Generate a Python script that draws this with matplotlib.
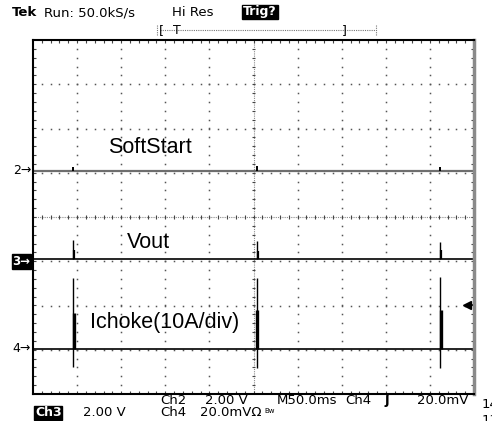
import numpy as np
import matplotlib.pyplot as plt
from matplotlib.lines import Line2D

W, H = 492, 421

# 时基 50ms/div, 屏幕 10 div -> 0..500 ms
spike_t_ms = [45.4, 253.6, 461.5]
# Ch2 SoftStart (2.00 V/div)
softstart_blip_v = [0.16, 0.22, 0.20]
# Ch3 Vout (2.00 V/div)
vout_peak_v = [0.85, 0.81, 0.77]
vout_body_v = [0.41, 0.38, 0.43]
# Ch4 Ichoke (20.0mV/div = 10A/div)
ichoke_peak_a = [16.0, 16.1, 16.2]
ichoke_body_a = [8.1, 8.8, 8.8]
ichoke_min_a = [-4.1, -4.3, -4.3]
trig_level_a = 10.0

# 通道位置 (div) 和刻度 (单位/div)
off2, off3, off4 = 1.04, -0.95, -2.98
sc2, sc3, sc4 = 2.0, 2.0, 10.0

t_screen = np.array([0.0, 500.0])
t = np.array(spike_t_ms)


def fx(px):
    return px / W


def fy(py):
    return 1 - py / H


fig = plt.figure(figsize=(W / 100, H / 100), dpi=100)
ax = fig.add_axes([fx(33), fy(394), 441 / W, 354 / H])
ax.set_xlim(0, 500)
ax.set_ylim(-4, 4)
ax.set_xticks([])
ax.set_yticks([])
for s in ['left', 'top', 'bottom']:
    ax.spines[s].set_linewidth(1.5)
    ax.spines[s].set_color('black')
ax.spines['right'].set_linewidth(2.5)
ax.spines['right'].set_color('#8a8a8a')

# 网格点
xs = np.arange(10, 500, 10)
ys = np.arange(-3.8, 3.81, 0.2)
for xm in [50, 100, 150, 200, 300, 350, 400, 450]:
    ax.plot(np.full(len(ys), xm), ys, ls='none', marker='s', ms=1.1, mew=0, color='#555555')
for yd in [-3, -2, -1, 1, 2, 3]:
    ax.plot(xs, np.full(len(xs), yd), ls='none', marker='s', ms=1.1, mew=0, color='#555555')

# 中心十字线
ax.axhline(0, color='#8c8c8c', lw=0.8, ls=(0, (1, 1)))
ax.axvline(250, color='#8c8c8c', lw=0.8, ls=(0, (1, 1)))
ax.vlines(xs, -0.05, 0.05, color='#444444', lw=0.8)
ax.hlines(ys, 248.3, 251.7, color='#444444', lw=0.8)

# 边框刻度
ax.vlines(xs, 3.93, 4, color='#444444', lw=0.8)
ax.vlines(xs, -4, -3.93, color='#444444', lw=0.8)
ax.hlines(ys, 0, 3.5, color='#444444', lw=0.8)
ax.hlines(ys, 496.5, 500, color='#444444', lw=0.8)

# Ch2 SoftStart
ax.plot(t_screen, off2 + 0 * t_screen, color='#6e6e6e', lw=1.6)
ax.vlines(t + 0.5, off2, off2 + np.array(softstart_blip_v) / sc2, color='black', lw=1.4)

# Ch3 Vout
ax.plot(t_screen, off3 + 0 * t_screen, color='black', lw=1.2)
ax.vlines(t, off3, off3 + np.array(vout_peak_v) / sc3, color='black', lw=1.0)
ax.vlines(t + 1.0, off3, off3 + np.array(vout_body_v) / sc3, color='black', lw=1.6)

# Ch4 Ichoke
ax.plot(t_screen, off4 + 0 * t_screen, color='black', lw=1.2)
ax.vlines(t, off4 + np.array(ichoke_min_a) / sc4, off4 + np.array(ichoke_peak_a) / sc4,
          color='black', lw=1.0)
ax.vlines(t + 0.8, off4, off4 + np.array(ichoke_body_a) / sc4, color='black', lw=2.4)

# 触发电平标记
ytrig = off4 + trig_level_a / sc4
ax.plot([491, 500], [ytrig, ytrig], color='black', lw=1.2, clip_on=False)
ax.plot([491.5], [ytrig], marker='<', ms=6, color='black', clip_on=False)

# 通道标签
ax.text(85, off2 + 0.54, 'SoftStart', fontsize=15.5,
        family='Liberation Sans', va='center', ha='left')
ax.text(106, off3 + 0.38, 'Vout', fontsize=15.5,
        family='Liberation Sans', va='center', ha='left')
ax.text(65, off4 + 0.6, 'Ichoke(10A/div)', fontsize=15.5,
        family='Liberation Sans', va='center', ha='left')

# 左侧通道指示
yt = ax.get_yaxis_transform()
ax.text(-0.004, off2, '2\u2192', transform=yt, ha='right', va='center', fontsize=9)
ax.text(-0.006, off3 - 0.05, '3\u2192', transform=yt, ha='right', va='center', fontsize=8.5,
        color='white', fontweight='bold',
        bbox=dict(facecolor='black', edgecolor='black', pad=0.6))
ax.text(-0.004, off4, '4\u2192', transform=yt, ha='right', va='center', fontsize=9)

# 顶部状态栏
fig.text(fx(12), fy(13), 'Tek', fontsize=9.5, fontweight='bold', va='center')
fig.text(fx(44), fy(13), 'Run: 50.0kS/s', fontsize=9.5, va='center')
fig.text(fx(172), fy(13), 'Hi Res', fontsize=9.5, va='center')
fig.text(fx(243), fy(12), 'Trig?', fontsize=9, va='center', color='white', fontweight='bold',
         bbox=dict(facecolor='black', edgecolor='black', pad=0.5))
fig.add_artist(Line2D([fx(160), fx(376)], [fy(30), fy(30)], ls=(0, (1, 1)), color='#777777', lw=0.8))
fig.add_artist(Line2D([fx(157), fx(157)], [fy(25), fy(35)], ls=(0, (1, 1)), color='#777777', lw=0.8))
fig.add_artist(Line2D([fx(376), fx(376)], [fy(25), fy(35)], ls=(0, (1, 1)), color='#777777', lw=0.8))
fig.text(fx(159), fy(31), '[', fontsize=9, va='center')
fig.text(fx(173), fy(30), 'T', fontsize=9, va='center')
fig.text(fx(342), fy(31), ']', fontsize=9, va='center')

# 底部状态栏
fig.text(fx(160), fy(400), 'Ch2', fontsize=9.5, va='center')
fig.text(fx(205), fy(400), '2.00 V', fontsize=9.5, va='center')
fig.text(fx(277), fy(400), 'M50.0ms', fontsize=9.5, va='center')
fig.text(fx(345), fy(400), 'Ch4', fontsize=9.5, va='center')
fig.text(fx(384), fy(400), '\u0283', fontsize=10, va='center', fontweight='bold')
fig.text(fx(417), fy(400), '20.0mV', fontsize=9.5, va='center')
fig.text(fx(482), fy(405), '14', fontsize=9.5, va='center')
fig.text(fx(35), fy(413), 'Ch3', fontsize=9, va='center', color='white', fontweight='bold',
         bbox=dict(facecolor='black', edgecolor='black', pad=0.5))
fig.text(fx(83), fy(413), '2.00 V', fontsize=9.5, va='center')
fig.text(fx(160), fy(413), 'Ch4', fontsize=9.5, va='center')
fig.text(fx(200), fy(413), '20.0mV\u03a9', fontsize=9.5, va='center')
fig.text(fx(264), fy(411), 'Bw', fontsize=5, va='center')
fig.text(fx(482), fy(421), '13', fontsize=9.5, va='center')

fig.savefig('out.png', dpi=100)
